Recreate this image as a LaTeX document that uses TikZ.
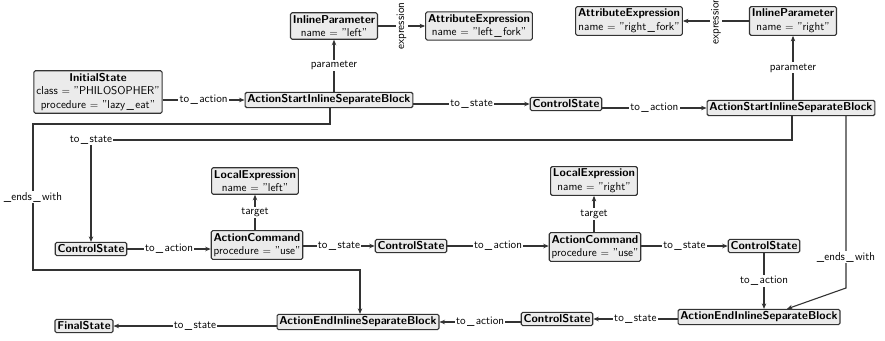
\documentclass[tikz,border=0pt]{standalone}
\usetikzlibrary{arrows.meta}
\newcommand\us{\kern.12em\_\kern.12em}
\begin{document}
\begin{tikzpicture}[x=1pt,y=-1pt,
  box/.style={draw=black!80, fill=black!8, rounded corners=1.5pt, line width=1.1pt,
    inner sep=2.4pt, align=center, font=\sffamily\fontsize{11.4}{13.6}\selectfont},
  lbl/.style={fill=white, inner sep=1.2pt, font=\sffamily\fontsize{11.4}{13}\selectfont},
  edge/.style={draw=black!80, line width=1.1pt, -{Stealth[length=5.5pt,width=4.5pt]}}]
\useasboundingbox (0,0) rectangle (885,340);
% nodes
\node[box] (init) at (98,92) {\textbf{InitialState}\\class $=$ "PHILOSOPHER"\\procedure $=$ "lazy\us eat"};
\node[box] (as1) at (329,100) {\textbf{ActionStartInlineSeparateBlock}};
\node[box] (ip1) at (334,26) {\textbf{InlineParameter}\\name $=$ "left"};
\node[box] (ae1) at (479,26) {\textbf{AttributeExpression}\\name $=$ "left\us fork"};
\node[box] (cs1) at (566,104) {\textbf{ControlState}};
\node[box] (as2) at (791,108) {\textbf{ActionStartInlineSeparateBlock}};
\node[box] (ip2) at (793,21) {\textbf{InlineParameter}\\name $=$ "right"};
\node[box] (ae2) at (629,21) {\textbf{AttributeExpression}\\name $=$ "right\us fork"};
\node[box] (cs2) at (91,249) {\textbf{ControlState}};
\node[box] (ac1) at (257,245) {\textbf{ActionCommand}\\procedure $=$ "use"};
\node[box] (le1) at (255,181) {\textbf{LocalExpression}\\name $=$ "left"};
\node[box] (cs3) at (411,246) {\textbf{ControlState}};
\node[box] (ac2) at (595,247) {\textbf{ActionCommand}\\procedure $=$ "use"};
\node[box] (le2) at (594,181) {\textbf{LocalExpression}\\name $=$ "right"};
\node[box] (cs4) at (764,246) {\textbf{ControlState}};
\node[box] (fs) at (84,326) {\textbf{FinalState}};
\node[box] (aee1) at (358,322) {\textbf{ActionEndInlineSeparateBlock}};
\node[box] (cs5) at (557,319) {\textbf{ControlState}};
\node[box] (aee2) at (759,317) {\textbf{ActionEndInlineSeparateBlock}};
% helper coordinates
\coordinate (t8a) at (792,140);
\coordinate (t8b) at (91,140);
\coordinate (e9a) at (330,124);
\coordinate (e9b) at (33,124);
\coordinate (e9c) at (33,270);
\coordinate (e9d) at (360,270);
\coordinate (e10a) at (846,288);
\coordinate (e10x) at (787,0);
% edges
\draw[edge] (init.east |- as1.west) -- node[lbl]{to\us action} (as1.west);
\draw[edge] (ip1.south |- as1.north) -- node[lbl]{parameter} (ip1.south);
\draw[edge] (ip1.east) -- node[lbl,rotate=90]{expression} (ae1.west);
\draw[edge] (as1.east |- cs1.west) -- node[lbl]{to\us state} (cs1.west);
\draw[edge] (cs1.east |- as2.west) -- node[lbl]{to\us action} (as2.west);
\draw[edge] (ip2.south |- as2.north) -- node[lbl]{parameter} (ip2.south);
\draw[edge] (ip2.west) -- node[lbl,rotate=90]{expression} (ae2.east);
\draw[edge] (as2.south -| t8a) -- (t8a) -- (t8b) node[lbl]{to\us state} -- (cs2.north);
\draw[edge] (as1.south -| e9a) -- (e9a) -- (e9b) -- node[lbl]{\_ends\us with} (e9c) -- (e9d) -- (aee1.north -| e9d);
\draw[edge] (as2.south -| e10a) -- node[lbl,pos=0.82]{\_ends\us with} (e10a) -- (aee2.north -| e10x);
\draw[edge] (cs2.east) -- node[lbl]{to\us action} (cs2.east -| ac1.west);
\draw[edge] (ac1.north -| le1.south) -- node[lbl]{target} (le1.south);
\draw[edge] (ac1.east |- cs3.west) -- node[lbl]{to\us state} (cs3.west);
\draw[edge] (cs3.east) -- node[lbl]{to\us action} (cs3.east -| ac2.west);
\draw[edge] (ac2.north -| le2.south) -- node[lbl]{target} (le2.south);
\draw[edge] (ac2.east |- cs4.west) -- node[lbl]{to\us state} (cs4.west);
\draw[edge] (cs4.south) -- node[lbl]{to\us action} (cs4.south |- aee2.north);
\draw[edge] (aee2.west |- cs5.east) -- node[lbl]{to\us state} (cs5.east);
\draw[edge] (cs5.west |- aee1.east) -- node[lbl]{to\us action} (aee1.east);
\draw[edge] (aee1.west |- fs.east) -- node[lbl]{to\us state} (fs.east);
\end{tikzpicture}
\end{document}
